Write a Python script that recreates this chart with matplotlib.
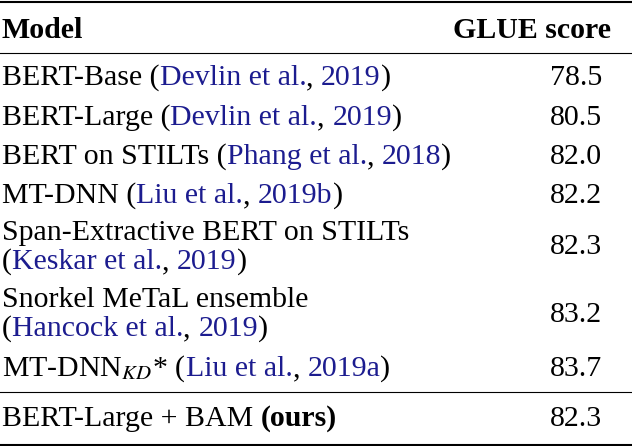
import matplotlib
matplotlib.use("Agg")
import matplotlib.pyplot as plt

plt.rcParams["font.family"] = ["Liberation Serif", "DejaVu Serif"]
plt.rcParams["mathtext.fontset"] = "stix"

W, H = 632, 446
CITE = "#1c1c8f"

# each model line: list of (text, is_cite, bold)
models = [
    [[("BERT-Base (", 0, 0), ("Devlin et al.", 1, 0), (", ", 0, 0), ("2019", 1, 0), (")", 0, 0)]],
    [[("BERT-Large (", 0, 0), ("Devlin et al.", 1, 0), (", ", 0, 0), ("2019", 1, 0), (")", 0, 0)]],
    [[("BERT on STILTs (", 0, 0), ("Phang et al.", 1, 0), (", ", 0, 0), ("2018", 1, 0), (")", 0, 0)]],
    [[("MT-DNN (", 0, 0), ("Liu et al.", 1, 0), (", ", 0, 0), ("2019b", 1, 0), (")", 0, 0)]],
    [[("Span-Extractive BERT on STILTs", 0, 0)],
     [("(", 0, 0), ("Keskar et al.", 1, 0), (", ", 0, 0), ("2019", 1, 0), (")", 0, 0)]],
    [[("Snorkel MeTaL ensemble", 0, 0)],
     [("(", 0, 0), ("Hancock et al.", 1, 0), (", ", 0, 0), ("2019", 1, 0), (")", 0, 0)]],
    [[("MT-DNN$_{KD}$* (", 0, 0), ("Liu et al.", 1, 0), (", ", 0, 0), ("2019a", 1, 0), (")", 0, 0)]],
]
scores = ["78.5", "80.5", "82.0", "82.2", "82.3", "83.2", "83.7"]
ours = [[("BERT-Large + BAM ", 0, 0), ("(ours)", 0, 1)]]
ours_score = "82.3"

# centre y (pixels from top) for each text line
line_y = [[78], [118], [157], [196], [233, 262], [300, 329], [369]]
ours_y = 419
score_x = 576
FS = 21.5

fig = plt.figure(figsize=(W / 100, H / 100), dpi=100)
renderer = fig.canvas.get_renderer()


def put(x, y, s, **kw):
    return fig.text(x / W, 1 - y / H, s, fontsize=FS, va="center", **kw)


def put_pieces(x, y, pieces):
    for s, cite, bold in pieces:
        t = put(x, y, s, color=CITE if cite else "black",
                fontweight="bold" if bold else "normal")
        x += t.get_window_extent(renderer).width


put(2, 31, "Model", fontweight="bold")
put(532, 31, "GLUE score", fontweight="bold", ha="center")

for lines, ys, sc in zip(models, line_y, scores):
    for pieces, y in zip(lines, ys):
        put_pieces(2, y, pieces)
    put(score_x, sum(ys) / len(ys), sc, ha="center")

put_pieces(2, ours_y, ours[0])
put(score_x, ours_y, ours_score, ha="center")

for y, lw in [(1.5, 1.5), (53, 0.8), (392, 0.8), (444.5, 1.5)]:
    fig.add_artist(plt.Line2D([0, 1], [1 - y / H] * 2, color="black", lw=lw))

fig.savefig("out.png", dpi=100)
